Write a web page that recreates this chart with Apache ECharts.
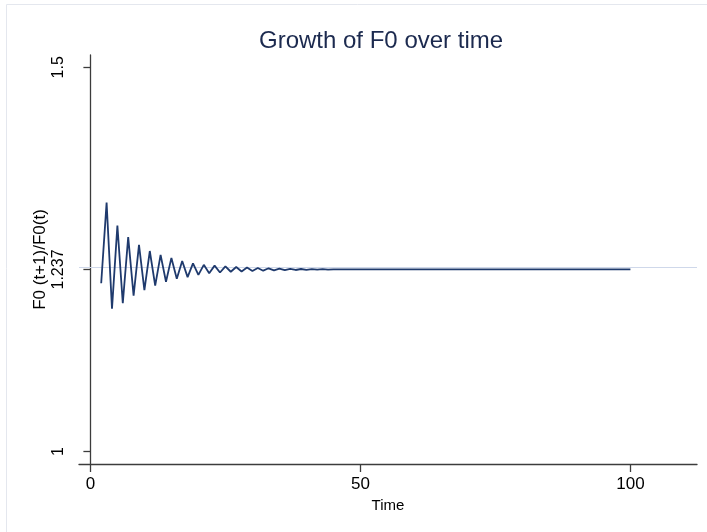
<!DOCTYPE html>
<html>
<head>
    <meta charset="utf-8">
    <title>Growth of F0 over time</title>
    <script src="https://cdn.jsdelivr.net/npm/echarts@6.0.0/dist/echarts.min.js"></script>
    <style>
        html, body { margin: 0; padding: 0; background: #fff; }
        #main { width: 707px; height: 532px; }
    </style>
</head>
<body>
    <div id="main"></div>
    <script>
        var myChart = echarts.init(document.getElementById('main'));

        // first time step with a ratio (t = 2), then one value per step up to t = 100
        const startTime = 2;
        const growthRatio = [
            1.219, 1.324, 1.186, 1.294, 1.193, 1.279, 1.203, 1.269, 1.210, 1.261,
            1.216, 1.256, 1.221, 1.252, 1.225, 1.248, 1.227, 1.245, 1.230, 1.243,
            1.232, 1.242, 1.233, 1.241, 1.234, 1.2402, 1.2344, 1.2395, 1.235, 1.2389,
            1.2354, 1.2385, 1.2358, 1.2381, 1.2361, 1.2378, 1.2363, 1.2376, 1.2365, 1.2374,
            1.2367, 1.2373, 1.2368, 1.2372,
            1.237, 1.237, 1.237, 1.237, 1.237, 1.237, 1.237, 1.237, 1.237, 1.237,
            1.237, 1.237, 1.237, 1.237, 1.237, 1.237, 1.237, 1.237, 1.237, 1.237,
            1.237, 1.237, 1.237, 1.237, 1.237, 1.237, 1.237, 1.237, 1.237, 1.237,
            1.237, 1.237, 1.237, 1.237, 1.237, 1.237, 1.237, 1.237, 1.237, 1.237,
            1.237, 1.237, 1.237, 1.237, 1.237, 1.237, 1.237, 1.237, 1.237, 1.237,
            1.237, 1.237, 1.237, 1.237, 1.237
        ];
        const xTicks = [0, 50, 100];
        const yTicks = [1, 1.237, 1.5];
        const steadyState = 1.237;

        const seriesData = growthRatio.map((v, i) => [startTime + i, v]);

        const axisColor = '#3c3c3c';
        const font = 'Liberation Sans, Arial, sans-serif';

        const option = {
            backgroundColor: '#fff',
            animation: false,
            title: {
                text: 'Growth of F0 over time',
                left: 254,
                top: 24,
                textStyle: {
                    color: '#1c2a4f',
                    fontSize: 24,
                    fontWeight: 'normal',
                    fontFamily: font
                }
            },
            graphic: [{
                type: 'rect',
                shape: { x: 6.5, y: 4.5, width: 720, height: 540 },
                style: { fill: 'none', stroke: '#e4e7ee', lineWidth: 1 },
                silent: true
            }],
            grid: {
                left: 79,
                top: 55,
                width: 618,
                height: 409
            },
            xAxis: {
                type: 'value',
                min: -2.11,
                max: 112.33,
                name: 'Time',
                nameLocation: 'middle',
                nameGap: 34,
                nameTextStyle: { color: '#000', fontSize: 15, fontFamily: font },
                axisLine: { show: true, lineStyle: { color: axisColor, width: 1.3 } },
                axisTick: { show: true, length: 8, customValues: xTicks, lineStyle: { color: axisColor, width: 1.3 } },
                axisLabel: { customValues: xTicks, color: '#000', fontSize: 17, margin: 12, fontFamily: font },
                splitLine: { show: false }
            },
            yAxis: {
                type: 'value',
                min: 0.9839,
                max: 1.516,
                name: 'F0 (t+1)/F0(t)',
                nameLocation: 'middle',
                nameRotate: 90,
                nameGap: 30,
                nameMoveOverlap: false,
                nameTextStyle: { color: '#000', fontSize: 17, fontFamily: font },
                axisLine: { show: true, lineStyle: { color: axisColor, width: 1.3 } },
                axisTick: { show: true, length: 7, customValues: yTicks, lineStyle: { color: axisColor, width: 1.3 } },
                axisLabel: {
                    customValues: yTicks,
                    rotate: 90,
                    color: '#000',
                    fontSize: 16,
                    margin: 12,
                    fontFamily: font,
                    formatter: function (v) { return String(v); }
                },
                splitLine: { show: false }
            },
            series: [{
                type: 'line',
                data: seriesData,
                showSymbol: false,
                symbol: 'none',
                lineStyle: { color: '#1f3a6d', width: 1.8 },
                z: 3,
                markLine: {
                    silent: true,
                    symbol: 'none',
                    label: { show: false },
                    lineStyle: { color: '#cfd8ea', width: 1.2, type: 'solid' },
                    data: [{ yAxis: steadyState }],
                    z: 1
                }
            }]
        };

        myChart.setOption(option);
    </script>
</body>
</html>
